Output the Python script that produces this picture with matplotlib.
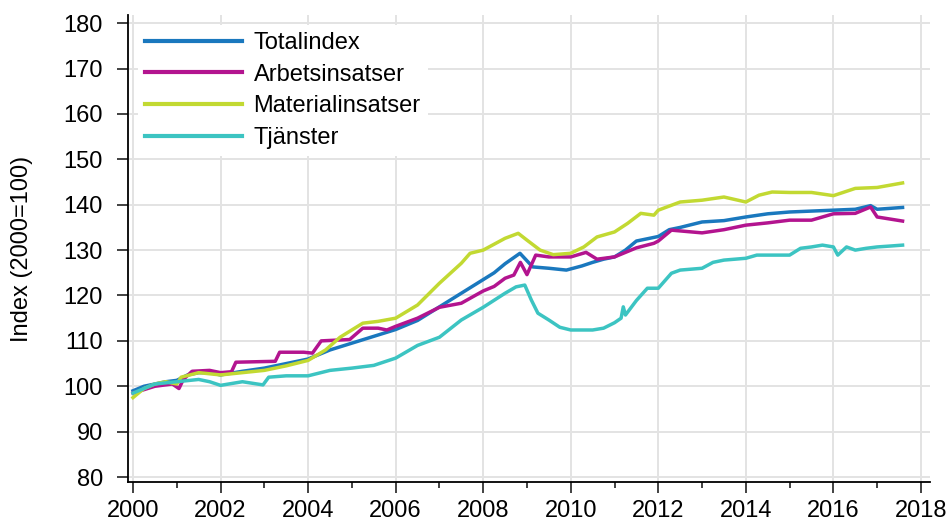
import matplotlib.pyplot as plt
from matplotlib.ticker import MultipleLocator

plt.rcParams['font.family'] = ['Liberation Sans', 'DejaVu Sans']

# series (decimal year, index value)
t_total = [2000.0, 2000.25, 2000.5, 2000.75, 2001.0, 2001.25, 2001.5, 2001.75, 2002.0, 2002.5,
           2003.0, 2003.5, 2004.0, 2004.5, 2005.0, 2005.5, 2006.0, 2006.5, 2007.0, 2007.5,
           2008.0, 2008.25, 2008.5, 2008.84, 2009.13, 2009.5, 2009.9, 2010.25, 2010.5, 2010.75,
           2011.0, 2011.25, 2011.5, 2011.75, 2012.0, 2012.25, 2012.5, 2013.0, 2013.5, 2014.0,
           2014.5, 2015.0, 2015.5, 2016.0, 2016.5, 2016.85, 2017.0, 2017.58]
v_total = [99, 100, 100.5, 101, 101.3, 102.5, 103, 103, 102.5, 103.3,
           104, 105, 106, 108, 109.5, 111, 112.5, 114.5, 117.5, 120.5,
           123.5, 125, 127, 129.3, 126.3, 126, 125.6, 126.5, 127.3, 128,
           128.5, 130, 132, 132.5, 133, 134.5, 135, 136.2, 136.5, 137.3,
           138, 138.4, 138.6, 138.8, 139, 139.8, 139, 139.4]

t_arbete = [2000.0, 2000.5, 2000.9, 2001.05, 2001.15, 2001.35, 2001.75, 2002.0, 2002.25, 2002.35,
            2003.25, 2003.35, 2003.9, 2004.1, 2004.3, 2004.95, 2005.25, 2005.6, 2005.8, 2006.0,
            2006.5, 2007.0, 2007.5, 2008.0, 2008.25, 2008.5, 2008.7, 2008.85, 2009.0, 2009.2,
            2009.5, 2010.0, 2010.35, 2010.6, 2011.0, 2011.5, 2011.9, 2012.0, 2012.3, 2013.0,
            2013.5, 2014.0, 2014.5, 2015.0, 2015.5, 2016.0, 2016.5, 2016.85, 2017.0, 2017.58]
v_arbete = [98.5, 100, 100.5, 99.5, 101.5, 103.3, 103.5, 103, 103.2, 105.3,
            105.5, 107.5, 107.5, 107.3, 110, 110.3, 112.8, 112.8, 112.4, 113.2,
            115, 117.4, 118.3, 121, 122, 123.8, 124.5, 127.3, 124.6, 128.9,
            128.5, 128.5, 129.5, 128, 128.5, 130.5, 131.5, 132, 134.4, 133.8,
            134.5, 135.5, 136, 136.6, 136.6, 138, 138.1, 139.5, 137.3, 136.4]

t_material = [2000.0, 2000.25, 2000.5, 2000.75, 2001.0, 2001.1, 2001.5, 2002.0, 2002.5, 2003.0,
              2003.5, 2004.0, 2004.4, 2004.73, 2005.25, 2005.6, 2006.0, 2006.5, 2007.0, 2007.5,
              2007.7, 2008.0, 2008.5, 2008.8, 2009.0, 2009.3, 2009.6, 2010.0, 2010.3, 2010.6,
              2011.0, 2011.3, 2011.6, 2011.9, 2012.0, 2012.5, 2013.0, 2013.5, 2014.0, 2014.3,
              2014.6, 2015.0, 2015.5, 2016.0, 2016.5, 2017.0, 2017.58]
v_material = [97.5, 99.5, 100.5, 101, 100.5, 102, 103, 102.5, 103, 103.5,
              104.5, 105.7, 108, 110.8, 113.9, 114.3, 115, 117.9, 122.7, 127.1,
              129.3, 130, 132.6, 133.7, 132.2, 130, 129, 129.3, 130.7, 132.9,
              134, 135.9, 138.1, 137.7, 138.8, 140.6, 141, 141.7, 140.6, 142.1,
              142.8, 142.7, 142.7, 142, 143.6, 143.8, 144.8]

t_tjanst = [2000.0, 2000.5, 2001.0, 2001.5, 2001.75, 2002.0, 2002.5, 2002.97, 2003.1, 2003.5,
            2004.0, 2004.5, 2005.0, 2005.5, 2006.0, 2006.5, 2007.0, 2007.5, 2008.0, 2008.5,
            2008.75, 2008.95, 2009.1, 2009.25, 2009.5, 2009.75, 2010.0, 2010.5, 2010.75, 2011.0,
            2011.15, 2011.2, 2011.25, 2011.5, 2011.75, 2012.0, 2012.3, 2012.5, 2013.0, 2013.25,
            2013.5, 2014.0, 2014.25, 2014.5, 2015.0, 2015.25, 2015.5, 2015.75, 2016.0, 2016.1,
            2016.3, 2016.5, 2016.75, 2017.0, 2017.3, 2017.58]
v_tjanst = [98.5, 100.5, 101, 101.5, 101, 100.2, 101, 100.3, 102, 102.3,
            102.3, 103.5, 104, 104.6, 106.2, 109, 110.8, 114.6, 117.4, 120.5,
            121.9, 122.3, 119, 116.1, 114.6, 113, 112.4, 112.4, 112.8, 114,
            115, 117.5, 115.7, 118.9, 121.6, 121.6, 124.9, 125.6, 126, 127.3,
            127.8, 128.2, 128.9, 128.9, 128.9, 130.4, 130.7, 131.1, 130.7, 128.9,
            130.7, 130, 130.4, 130.7, 130.9, 131.1]

labels = ['Totalindex', 'Arbetsinsatser', 'Materialinsatser', 'Tjänster']
colors = ['#1a78be', '#b3148f', '#c2d932', '#3cc4c2']

fig = plt.figure(figsize=(9.51, 5.29), dpi=100)
ax = fig.add_axes([0.1346, 0.0888, 0.843, 0.8828])

series = [(t_total, v_total), (t_arbete, v_arbete), (t_material, v_material), (t_tjanst, v_tjanst)]
for (t, v), lab, col in zip(series, labels, colors):
    ax.plot(t, v, color=col, lw=2.5, label=lab, solid_joinstyle='round')

ax.set_xlim(1999.886, 2018.2)
ax.set_ylim(78.9, 181.8)
ax.xaxis.set_minor_locator(MultipleLocator(1))
ax.set_xticks(range(2000, 2019, 2))
ax.set_yticks(range(80, 181, 10))

ax.grid(True, which='major', color='#e3e3e3', lw=1.4)
ax.set_axisbelow(True)
for s in ['top', 'right']:
    ax.spines[s].set_visible(False)
for s in ['left', 'bottom']:
    ax.spines[s].set_linewidth(1.3)

ax.tick_params(axis='both', which='major', labelsize=17, length=8, width=1.3, color='#333333')
ax.tick_params(axis='x', which='major', length=8, pad=5)
ax.tick_params(axis='x', which='minor', length=4, width=1.3, color='#333333')
ax.tick_params(axis='y', pad=10)

ax.set_ylabel('Index (2000=100)', fontsize=17, labelpad=22)

leg = ax.legend(loc='upper left', fontsize=17, frameon=True, handlelength=4.1,
                handletextpad=0.5, labelspacing=0.41, borderpad=0.3,
                borderaxespad=0.42, bbox_to_anchor=(0.0, 1.0))
leg.get_frame().set_edgecolor('none')
leg.get_frame().set_facecolor('white')
leg.get_frame().set_alpha(1.0)
for line in leg.get_lines():
    line.set_linewidth(3)

fig.savefig('out.png', dpi=100)
